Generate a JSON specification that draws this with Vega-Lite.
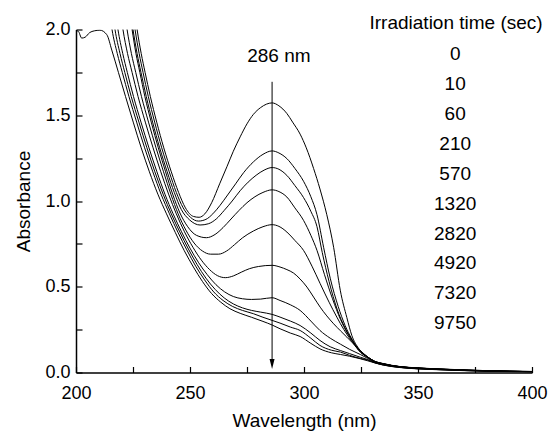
{
  "$schema": "https://vega.github.io/schema/vega-lite/v6.json",
  "width": 456,
  "height": 343,
  "autosize": {"type": "none"},
  "padding": {"left": 76, "top": 29.5, "right": 19, "bottom": 64.5},
  "background": "white",
  "config": {
    "view": {"stroke": null},
    "font": "Liberation Sans",
    "axis": {
      "grid": false,
      "domainColor": "black",
      "domainWidth": 1.5,
      "ticks": true,
      "tickColor": "black",
      "tickWidth": 1.2,
      "labelColor": "black",
      "labelFont": "Liberation Sans",
      "labelFontSize": 18,
      "labelFlush": false,
      "labelOverlap": false,
      "titleColor": "black",
      "titleFont": "Liberation Sans",
      "titleFontSize": 19,
      "titleFontWeight": "normal"
    }
  },
  "datasets": {
    "spectra": [
      {"t":"0","x":224,"y":2.3},{"t":"0","x":226.8,"y":2.0},{"t":"0","x":228.6,"y":1.86},{"t":"0","x":230.3,"y":1.75},{"t":"0","x":232.6,"y":1.61},{"t":"0","x":235.4,"y":1.46},{"t":"0","x":238.5,"y":1.31},{"t":"0","x":241.8,"y":1.17},{"t":"0","x":245,"y":1.05},{"t":"0","x":248,"y":0.96},{"t":"0","x":251.5,"y":0.91},{"t":"0","x":254,"y":0.905},{"t":"0","x":256.5,"y":0.925},{"t":"0","x":259.5,"y":0.99},{"t":"0","x":263,"y":1.1},{"t":"0","x":266.2,"y":1.2},{"t":"0","x":269,"y":1.29},{"t":"0","x":272,"y":1.374},{"t":"0","x":275,"y":1.45},{"t":"0","x":277.8,"y":1.505},{"t":"0","x":281,"y":1.545},{"t":"0","x":286,"y":1.572},{"t":"0","x":289,"y":1.555},{"t":"0","x":292.5,"y":1.51},{"t":"0","x":295,"y":1.46},{"t":"0","x":298.3,"y":1.39},{"t":"0","x":301,"y":1.31},{"t":"0","x":304.2,"y":1.19},{"t":"0","x":307,"y":1.07},{"t":"0","x":310,"y":0.92},{"t":"0","x":313,"y":0.73},{"t":"0","x":315.9,"y":0.48},{"t":"0","x":318.8,"y":0.32},{"t":"0","x":321,"y":0.215},{"t":"0","x":324,"y":0.14},{"t":"0","x":328,"y":0.09},{"t":"0","x":331,"y":0.066},{"t":"0","x":334.8,"y":0.052},{"t":"0","x":342,"y":0.035},{"t":"0","x":350,"y":0.027},{"t":"0","x":357,"y":0.022},{"t":"0","x":365,"y":0.018},{"t":"0","x":372,"y":0.014},{"t":"0","x":380,"y":0.011},{"t":"0","x":390,"y":0.008},{"t":"0","x":400,"y":0.006},

      {"t":"10","x":223,"y":2.3},{"t":"10","x":225.9,"y":2.0},{"t":"10","x":227.7,"y":1.86},{"t":"10","x":229.4,"y":1.75},{"t":"10","x":231.7,"y":1.61},{"t":"10","x":234.5,"y":1.46},{"t":"10","x":237.6,"y":1.31},{"t":"10","x":240.9,"y":1.17},{"t":"10","x":244,"y":1.05},{"t":"10","x":247,"y":0.96},{"t":"10","x":250.2,"y":0.905},{"t":"10","x":253.7,"y":0.883},{"t":"10","x":257,"y":0.893},{"t":"10","x":260,"y":0.925},{"t":"10","x":263.2,"y":0.975},{"t":"10","x":266.5,"y":1.035},{"t":"10","x":270,"y":1.1},{"t":"10","x":273.5,"y":1.165},{"t":"10","x":277.8,"y":1.228},{"t":"10","x":282,"y":1.272},{"t":"10","x":286,"y":1.292},{"t":"10","x":289,"y":1.28},{"t":"10","x":292.5,"y":1.247},{"t":"10","x":296,"y":1.19},{"t":"10","x":299.8,"y":1.115},{"t":"10","x":303,"y":1.025},{"t":"10","x":305.7,"y":0.92},{"t":"10","x":308.6,"y":0.73},{"t":"10","x":311.5,"y":0.55},{"t":"10","x":315,"y":0.385},{"t":"10","x":318,"y":0.275},{"t":"10","x":321,"y":0.195},{"t":"10","x":324,"y":0.135},{"t":"10","x":328,"y":0.09},{"t":"10","x":331,"y":0.065},{"t":"10","x":334.8,"y":0.051},{"t":"10","x":342,"y":0.034},{"t":"10","x":350,"y":0.026},{"t":"10","x":357,"y":0.021},{"t":"10","x":365,"y":0.017},{"t":"10","x":372,"y":0.014},{"t":"10","x":380,"y":0.011},{"t":"10","x":390,"y":0.008},{"t":"10","x":400,"y":0.006},

      {"t":"60","x":222,"y":2.3},{"t":"60","x":225,"y":2.0},{"t":"60","x":226.8,"y":1.86},{"t":"60","x":228.5,"y":1.75},{"t":"60","x":230.8,"y":1.61},{"t":"60","x":233.6,"y":1.46},{"t":"60","x":236.7,"y":1.31},{"t":"60","x":240,"y":1.17},{"t":"60","x":243.1,"y":1.05},{"t":"60","x":246.2,"y":0.95},{"t":"60","x":249.8,"y":0.89},{"t":"60","x":254.4,"y":0.86},{"t":"60","x":258,"y":0.867},{"t":"60","x":261.5,"y":0.895},{"t":"60","x":265,"y":0.945},{"t":"60","x":268.5,"y":1.0},{"t":"60","x":272,"y":1.06},{"t":"60","x":275.5,"y":1.11},{"t":"60","x":279,"y":1.15},{"t":"60","x":282.5,"y":1.18},{"t":"60","x":286,"y":1.195},{"t":"60","x":289,"y":1.185},{"t":"60","x":292.5,"y":1.149},{"t":"60","x":296,"y":1.09},{"t":"60","x":299.8,"y":1.02},{"t":"60","x":303,"y":0.94},{"t":"60","x":305.7,"y":0.85},{"t":"60","x":308,"y":0.7},{"t":"60","x":311,"y":0.53},{"t":"60","x":314.5,"y":0.37},{"t":"60","x":318,"y":0.26},{"t":"60","x":321,"y":0.19},{"t":"60","x":324,"y":0.13},{"t":"60","x":328,"y":0.088},{"t":"60","x":331,"y":0.065},{"t":"60","x":334.8,"y":0.051},{"t":"60","x":342,"y":0.034},{"t":"60","x":350,"y":0.026},{"t":"60","x":357,"y":0.021},{"t":"60","x":365,"y":0.017},{"t":"60","x":372,"y":0.013},{"t":"60","x":380,"y":0.01},{"t":"60","x":390,"y":0.007},{"t":"60","x":400,"y":0.005},

      {"t":"210","x":221.5,"y":2.3},{"t":"210","x":224.6,"y":2.0},{"t":"210","x":226.3,"y":1.86},{"t":"210","x":228,"y":1.75},{"t":"210","x":230.2,"y":1.61},{"t":"210","x":233,"y":1.46},{"t":"210","x":236.1,"y":1.31},{"t":"210","x":239.3,"y":1.17},{"t":"210","x":242.4,"y":1.04},{"t":"210","x":245.6,"y":0.93},{"t":"210","x":249,"y":0.85},{"t":"210","x":252.8,"y":0.8},{"t":"210","x":257.2,"y":0.786},{"t":"210","x":261,"y":0.805},{"t":"210","x":264.5,"y":0.845},{"t":"210","x":268,"y":0.895},{"t":"210","x":271.5,"y":0.945},{"t":"210","x":275,"y":0.99},{"t":"210","x":278.5,"y":1.025},{"t":"210","x":282,"y":1.05},{"t":"210","x":286,"y":1.065},{"t":"210","x":289,"y":1.055},{"t":"210","x":292.5,"y":1.023},{"t":"210","x":296,"y":0.96},{"t":"210","x":299.8,"y":0.887},{"t":"210","x":303,"y":0.8},{"t":"210","x":305.7,"y":0.712},{"t":"210","x":309,"y":0.57},{"t":"210","x":312.5,"y":0.43},{"t":"210","x":316,"y":0.31},{"t":"210","x":319,"y":0.23},{"t":"210","x":321.5,"y":0.18},{"t":"210","x":324,"y":0.13},{"t":"210","x":328,"y":0.088},{"t":"210","x":331,"y":0.064},{"t":"210","x":334.8,"y":0.05},{"t":"210","x":342,"y":0.034},{"t":"210","x":350,"y":0.026},{"t":"210","x":357,"y":0.021},{"t":"210","x":365,"y":0.017},{"t":"210","x":372,"y":0.013},{"t":"210","x":380,"y":0.01},{"t":"210","x":390,"y":0.007},{"t":"210","x":400,"y":0.005},

      {"t":"570","x":219.5,"y":2.3},{"t":"570","x":222.4,"y":2.0},{"t":"570","x":224.3,"y":1.86},{"t":"570","x":226.2,"y":1.75},{"t":"570","x":228.7,"y":1.61},{"t":"570","x":231.8,"y":1.46},{"t":"570","x":235.1,"y":1.31},{"t":"570","x":238.4,"y":1.17},{"t":"570","x":241.6,"y":1.04},{"t":"570","x":244.8,"y":0.925},{"t":"570","x":248.2,"y":0.83},{"t":"570","x":251.8,"y":0.755},{"t":"570","x":255.5,"y":0.708},{"t":"570","x":259,"y":0.69},{"t":"570","x":262.5,"y":0.69},{"t":"570","x":266,"y":0.708},{"t":"570","x":269.5,"y":0.745},{"t":"570","x":273,"y":0.785},{"t":"570","x":277.8,"y":0.825},{"t":"570","x":282,"y":0.85},{"t":"570","x":286,"y":0.862},{"t":"570","x":289,"y":0.852},{"t":"570","x":292.5,"y":0.819},{"t":"570","x":296,"y":0.77},{"t":"570","x":299.8,"y":0.712},{"t":"570","x":303.5,"y":0.62},{"t":"570","x":307.1,"y":0.518},{"t":"570","x":311,"y":0.41},{"t":"570","x":314.4,"y":0.323},{"t":"570","x":317.5,"y":0.25},{"t":"570","x":320.5,"y":0.19},{"t":"570","x":324,"y":0.13},{"t":"570","x":328,"y":0.088},{"t":"570","x":331,"y":0.064},{"t":"570","x":334.8,"y":0.05},{"t":"570","x":342,"y":0.033},{"t":"570","x":350,"y":0.025},{"t":"570","x":357,"y":0.02},{"t":"570","x":365,"y":0.016},{"t":"570","x":372,"y":0.013},{"t":"570","x":380,"y":0.01},{"t":"570","x":390,"y":0.007},{"t":"570","x":400,"y":0.005},

      {"t":"1320","x":217.8,"y":2.3},{"t":"1320","x":220.6,"y":2.0},{"t":"1320","x":222.6,"y":1.86},{"t":"1320","x":224.6,"y":1.75},{"t":"1320","x":227.2,"y":1.61},{"t":"1320","x":230.4,"y":1.46},{"t":"1320","x":233.8,"y":1.31},{"t":"1320","x":237.2,"y":1.17},{"t":"1320","x":240.6,"y":1.04},{"t":"1320","x":244,"y":0.925},{"t":"1320","x":247.6,"y":0.82},{"t":"1320","x":251.3,"y":0.73},{"t":"1320","x":255,"y":0.655},{"t":"1320","x":258.6,"y":0.6},{"t":"1320","x":262,"y":0.565},{"t":"1320","x":265.5,"y":0.553},{"t":"1320","x":269,"y":0.563},{"t":"1320","x":272.5,"y":0.585},{"t":"1320","x":276,"y":0.605},{"t":"1320","x":280,"y":0.618},{"t":"1320","x":286,"y":0.625},{"t":"1320","x":289.5,"y":0.615},{"t":"1320","x":292.5,"y":0.6},{"t":"1320","x":295.4,"y":0.58},{"t":"1320","x":298.3,"y":0.545},{"t":"1320","x":301.3,"y":0.498},{"t":"1320","x":304.2,"y":0.44},{"t":"1320","x":307.1,"y":0.381},{"t":"1320","x":310,"y":0.33},{"t":"1320","x":313,"y":0.284},{"t":"1320","x":316,"y":0.243},{"t":"1320","x":318.8,"y":0.206},{"t":"1320","x":321.5,"y":0.17},{"t":"1320","x":324.7,"y":0.128},{"t":"1320","x":328,"y":0.09},{"t":"1320","x":331,"y":0.062},{"t":"1320","x":334.8,"y":0.049},{"t":"1320","x":342,"y":0.033},{"t":"1320","x":350,"y":0.025},{"t":"1320","x":357,"y":0.02},{"t":"1320","x":365,"y":0.016},{"t":"1320","x":372,"y":0.013},{"t":"1320","x":380,"y":0.01},{"t":"1320","x":390,"y":0.007},{"t":"1320","x":400,"y":0.005},

      {"t":"2820","x":215.6,"y":2.3},{"t":"2820","x":218.4,"y":2.0},{"t":"2820","x":220.5,"y":1.86},{"t":"2820","x":222.5,"y":1.75},{"t":"2820","x":225.2,"y":1.61},{"t":"2820","x":228.5,"y":1.46},{"t":"2820","x":232,"y":1.31},{"t":"2820","x":235.5,"y":1.17},{"t":"2820","x":239,"y":1.04},{"t":"2820","x":242.6,"y":0.925},{"t":"2820","x":246.3,"y":0.82},{"t":"2820","x":250,"y":0.725},{"t":"2820","x":253.8,"y":0.64},{"t":"2820","x":257.6,"y":0.57},{"t":"2820","x":261.4,"y":0.512},{"t":"2820","x":265.2,"y":0.47},{"t":"2820","x":269,"y":0.443},{"t":"2820","x":273,"y":0.43},{"t":"2820","x":277,"y":0.426},{"t":"2820","x":281,"y":0.428},{"t":"2820","x":286,"y":0.436},{"t":"2820","x":289.5,"y":0.42},{"t":"2820","x":294,"y":0.395},{"t":"2820","x":298.3,"y":0.362},{"t":"2820","x":303,"y":0.3},{"t":"2820","x":307,"y":0.245},{"t":"2820","x":311.5,"y":0.2},{"t":"2820","x":316,"y":0.165},{"t":"2820","x":320,"y":0.135},{"t":"2820","x":324.7,"y":0.105},{"t":"2820","x":328,"y":0.082},{"t":"2820","x":331,"y":0.061},{"t":"2820","x":334.8,"y":0.048},{"t":"2820","x":342,"y":0.032},{"t":"2820","x":350,"y":0.024},{"t":"2820","x":357,"y":0.02},{"t":"2820","x":365,"y":0.016},{"t":"2820","x":372,"y":0.012},{"t":"2820","x":380,"y":0.009},{"t":"2820","x":390,"y":0.007},{"t":"2820","x":400,"y":0.005},

      {"t":"4920","x":214.3,"y":2.3},{"t":"4920","x":217.1,"y":2.0},{"t":"4920","x":219.3,"y":1.86},{"t":"4920","x":221.4,"y":1.75},{"t":"4920","x":224.2,"y":1.61},{"t":"4920","x":227.6,"y":1.46},{"t":"4920","x":231.1,"y":1.31},{"t":"4920","x":234.6,"y":1.17},{"t":"4920","x":238.2,"y":1.04},{"t":"4920","x":241.8,"y":0.925},{"t":"4920","x":245.5,"y":0.82},{"t":"4920","x":249.3,"y":0.72},{"t":"4920","x":253.1,"y":0.63},{"t":"4920","x":257,"y":0.55},{"t":"4920","x":261,"y":0.485},{"t":"4920","x":265,"y":0.435},{"t":"4920","x":269,"y":0.4},{"t":"4920","x":273,"y":0.377},{"t":"4920","x":277,"y":0.362},{"t":"4920","x":281,"y":0.352},{"t":"4920","x":286,"y":0.339},{"t":"4920","x":289.5,"y":0.323},{"t":"4920","x":294,"y":0.3},{"t":"4920","x":298.3,"y":0.274},{"t":"4920","x":303,"y":0.23},{"t":"4920","x":307,"y":0.187},{"t":"4920","x":311.5,"y":0.15},{"t":"4920","x":316,"y":0.128},{"t":"4920","x":320,"y":0.11},{"t":"4920","x":324.7,"y":0.089},{"t":"4920","x":328,"y":0.075},{"t":"4920","x":331,"y":0.058},{"t":"4920","x":334.8,"y":0.045},{"t":"4920","x":342,"y":0.03},{"t":"4920","x":350,"y":0.022},{"t":"4920","x":357,"y":0.018},{"t":"4920","x":365,"y":0.014},{"t":"4920","x":372,"y":0.011},{"t":"4920","x":380,"y":0.008},{"t":"4920","x":390,"y":0.006},{"t":"4920","x":400,"y":0.004},

      {"t":"7320","x":213,"y":2.3},{"t":"7320","x":215.8,"y":2.0},{"t":"7320","x":218.1,"y":1.86},{"t":"7320","x":220.3,"y":1.75},{"t":"7320","x":223.2,"y":1.61},{"t":"7320","x":226.6,"y":1.46},{"t":"7320","x":230.1,"y":1.31},{"t":"7320","x":233.7,"y":1.17},{"t":"7320","x":237.3,"y":1.04},{"t":"7320","x":241,"y":0.925},{"t":"7320","x":244.8,"y":0.815},{"t":"7320","x":248.6,"y":0.715},{"t":"7320","x":252.5,"y":0.62},{"t":"7320","x":256.4,"y":0.54},{"t":"7320","x":260.4,"y":0.47},{"t":"7320","x":264.5,"y":0.42},{"t":"7320","x":268.7,"y":0.385},{"t":"7320","x":273,"y":0.362},{"t":"7320","x":277.8,"y":0.343},{"t":"7320","x":282,"y":0.322},{"t":"7320","x":286,"y":0.304},{"t":"7320","x":289.5,"y":0.288},{"t":"7320","x":294,"y":0.265},{"t":"7320","x":298.3,"y":0.245},{"t":"7320","x":303,"y":0.2},{"t":"7320","x":307,"y":0.158},{"t":"7320","x":312,"y":0.13},{"t":"7320","x":316,"y":0.119},{"t":"7320","x":320,"y":0.1},{"t":"7320","x":324.7,"y":0.082},{"t":"7320","x":328,"y":0.072},{"t":"7320","x":331,"y":0.057},{"t":"7320","x":334.8,"y":0.044},{"t":"7320","x":342,"y":0.03},{"t":"7320","x":350,"y":0.022},{"t":"7320","x":357,"y":0.018},{"t":"7320","x":365,"y":0.014},{"t":"7320","x":372,"y":0.011},{"t":"7320","x":380,"y":0.008},{"t":"7320","x":390,"y":0.006},{"t":"7320","x":400,"y":0.004},

      {"t":"9750","x":200,"y":1.993},{"t":"9750","x":201,"y":1.99},{"t":"9750","x":202.5,"y":1.95},{"t":"9750","x":204,"y":1.955},{"t":"9750","x":206,"y":1.982},{"t":"9750","x":208,"y":1.992},{"t":"9750","x":210.5,"y":1.996},{"t":"9750","x":213.5,"y":1.97},{"t":"9750","x":215.7,"y":1.88},{"t":"9750","x":218.6,"y":1.75},{"t":"9750","x":221.7,"y":1.61},{"t":"9750","x":225.1,"y":1.46},{"t":"9750","x":228.6,"y":1.31},{"t":"9750","x":232.2,"y":1.17},{"t":"9750","x":235.9,"y":1.04},{"t":"9750","x":239.7,"y":0.925},{"t":"9750","x":243.6,"y":0.815},{"t":"9750","x":247.5,"y":0.71},{"t":"9750","x":251.5,"y":0.615},{"t":"9750","x":255.5,"y":0.53},{"t":"9750","x":259.5,"y":0.46},{"t":"9750","x":263.5,"y":0.41},{"t":"9750","x":267.5,"y":0.372},{"t":"9750","x":272,"y":0.345},{"t":"9750","x":277,"y":0.322},{"t":"9750","x":282,"y":0.298},{"t":"9750","x":286,"y":0.277},{"t":"9750","x":289.5,"y":0.255},{"t":"9750","x":294,"y":0.23},{"t":"9750","x":298.3,"y":0.21},{"t":"9750","x":303,"y":0.17},{"t":"9750","x":307,"y":0.138},{"t":"9750","x":312,"y":0.115},{"t":"9750","x":316,"y":0.105},{"t":"9750","x":320,"y":0.095},{"t":"9750","x":324.7,"y":0.08},{"t":"9750","x":328,"y":0.068},{"t":"9750","x":331,"y":0.056},{"t":"9750","x":334.8,"y":0.043},{"t":"9750","x":342,"y":0.029},{"t":"9750","x":350,"y":0.021},{"t":"9750","x":357,"y":0.017},{"t":"9750","x":365,"y":0.013},{"t":"9750","x":372,"y":0.01},{"t":"9750","x":380,"y":0.008},{"t":"9750","x":390,"y":0.005},{"t":"9750","x":400,"y":0.004}
    ],
    "arrow": [{"x": 286, "top": 1.695, "bottom": 0.07, "head": 0.05}],
    "labels": [
      {"x": 289, "y": 1.845, "label": "286 nm"},
      {"x": 366.7, "y": 2.035, "label": "Irradiation time (sec)"},
      {"x": 366.3, "y": 1.860, "label": "0"},
      {"x": 366.3, "y": 1.685, "label": "10"},
      {"x": 366.3, "y": 1.510, "label": "60"},
      {"x": 366.3, "y": 1.335, "label": "210"},
      {"x": 366.3, "y": 1.160, "label": "570"},
      {"x": 366.3, "y": 0.985, "label": "1320"},
      {"x": 366.3, "y": 0.810, "label": "2820"},
      {"x": 366.3, "y": 0.636, "label": "4920"},
      {"x": 366.3, "y": 0.461, "label": "7320"},
      {"x": 366.3, "y": 0.286, "label": "9750"}
    ]
  },
  "layer": [
    {
      "data": {"name": "spectra"},
      "mark": {"type": "line", "clip": true, "color": "black", "strokeWidth": 1, "interpolate": "monotone"},
      "encoding": {
        "x": {
          "field": "x", "type": "quantitative",
          "scale": {"domain": [200, 400], "nice": false, "zero": false},
          "axis": {
            "title": "Wavelength (nm)",
            "values": [200, 225, 250, 275, 300, 325, 350, 375, 400],
            "labelExpr": "datum.value % 50 === 0 ? format(datum.value, 'd') : ''",
            "tickSize": -6,
            "labelPadding": 18,
            "titlePadding": 9
          }
        },
        "y": {
          "field": "y", "type": "quantitative",
          "scale": {"domain": [0, 2], "nice": false},
          "axis": {
            "title": "Absorbance",
            "values": [0, 0.25, 0.5, 0.75, 1, 1.25, 1.5, 1.75, 2],
            "labelExpr": "datum.value % 0.5 === 0 ? format(datum.value, '.1f') : ''",
            "tickSize": -6,
            "labelPadding": 12,
            "titlePadding": 11
          }
        },
        "detail": {"field": "t"}
      }
    },
    {
      "data": {"name": "arrow"},
      "mark": {"type": "rule", "color": "black", "strokeWidth": 1},
      "encoding": {
        "x": {"field": "x", "type": "quantitative"},
        "y": {"field": "top", "type": "quantitative"},
        "y2": {"field": "bottom"}
      }
    },
    {
      "data": {"name": "arrow"},
      "mark": {"type": "point", "shape": "M-0.5,-1L0.5,-1L0,1Z", "filled": true, "color": "black", "opacity": 1, "size": 100, "strokeWidth": 0},
      "encoding": {
        "x": {"field": "x", "type": "quantitative"},
        "y": {"field": "head", "type": "quantitative"}
      }
    },
    {
      "data": {"name": "labels"},
      "mark": {"type": "text", "font": "Liberation Sans", "fontSize": 19, "align": "center", "baseline": "middle", "color": "black"},
      "encoding": {
        "x": {"field": "x", "type": "quantitative"},
        "y": {"field": "y", "type": "quantitative"},
        "text": {"field": "label"}
      }
    }
  ]
}
